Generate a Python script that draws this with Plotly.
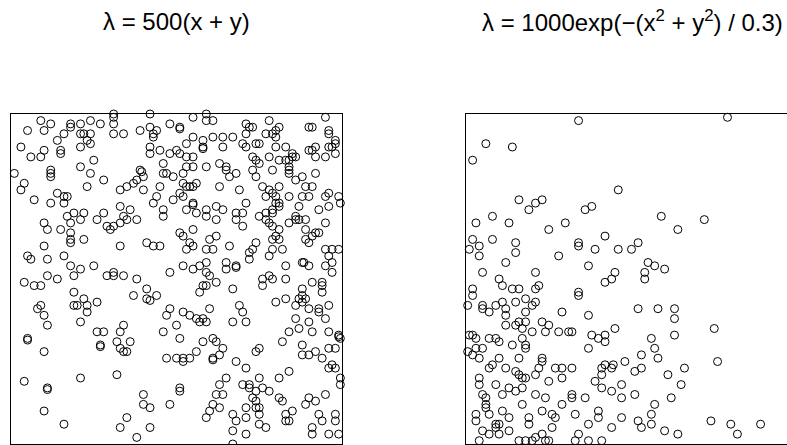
import plotly.graph_objects as go

# ---- data (unit-square point patterns) ----
left_title = "λ = 500(x + y)"
right_title = "λ = 1000exp(−(x<sup>2</sup> + y<sup>2</sup>) / 0.3)"

left_points = [
    (0.31,1.00),(0.31,0.99),(0.42,1.00),(0.09,0.98),(0.12,0.97),(0.18,0.97),(0.18,0.96),(0.21,0.97),(0.24,0.98),(0.27,0.97),(0.31,0.97),
    (0.05,0.95),(0.10,0.95),(0.16,0.94),(0.14,0.92),(0.21,0.94),(0.22,0.94),(0.24,0.94),(0.23,0.92),(0.24,0.91),(0.31,0.94),(0.34,0.94),
    (0.39,0.95),(0.42,0.96),(0.43,0.93),(0.44,0.95),(0.43,0.94),(0.48,0.97),(0.51,0.96),(0.51,0.955),
    (0.03,0.90),(0.21,0.90),(0.10,0.89),(0.15,0.89),(0.15,0.88),(0.06,0.87),(0.09,0.87),(0.42,0.90),(0.45,0.89),(0.42,0.88),(0.48,0.88),
    (0.50,0.89),(0.51,0.88),(0.53,0.91),
    (0.01,0.82),(0.21,0.84),(0.25,0.86),(0.12,0.83),(0.12,0.82),(0.12,0.81),(0.24,0.82),(0.28,0.80),(0.46,0.85),(0.39,0.83),(0.395,0.825),
    (0.40,0.81),(0.46,0.82),(0.47,0.82),(0.49,0.81),(0.52,0.82),(0.53,0.84),(0.53,0.87),
    (0.04,0.79),(0.03,0.77),(0.23,0.78),(0.33,0.77),(0.35,0.78),(0.37,0.79),(0.38,0.80),(0.40,0.77),(0.45,0.78),(0.52,0.79),(0.53,0.78),
    (0.54,0.78),(0.51,0.76),
    (0.07,0.74),(0.14,0.76),(0.16,0.75),(0.17,0.75),(0.16,0.73),(0.12,0.73),(0.44,0.75),(0.43,0.73),(0.49,0.74),(0.52,0.75),
    (0.17,0.69),(0.19,0.70),(0.22,0.70),(0.18,0.67),(0.21,0.68),(0.26,0.68),(0.28,0.70),(0.33,0.72),(0.36,0.71),(0.34,0.69),(0.35,0.68),
    (0.33,0.67),(0.31,0.66),(0.38,0.68),(0.29,0.66),(0.30,0.65),(0.46,0.71),(0.46,0.69),(0.53,0.71),
    (0.10,0.67),(0.11,0.65),(0.15,0.65),(0.18,0.64),(0.18,0.62),(0.18,0.61),(0.22,0.62),(0.51,0.64),(0.52,0.63),(0.54,0.61),(0.53,0.59),
    (0.10,0.60),(0.33,0.60),(0.41,0.61),(0.43,0.60),(0.45,0.60),
    (0.05,0.57),(0.06,0.56),(0.11,0.56),(0.16,0.57),(0.18,0.54),(0.21,0.53),(0.25,0.54),(0.52,0.54),
    (0.55,0.99),(0.59,1.00),(0.59,0.98),(0.61,0.98),(0.78,0.98),(0.95,0.99),(0.71,0.97),(0.72,0.96),(0.73,0.96),(0.90,0.96),(0.91,0.96),
    (0.96,0.95),
    (0.55,0.93),(0.58,0.92),(0.61,0.93),(0.64,0.93),(0.67,0.93),(0.58,0.90),(0.58,0.895),(0.64,0.90),(0.71,0.94),(0.70,0.91),(0.71,0.90),
    (0.74,0.91),(0.75,0.91),(0.77,0.94),(0.79,0.94),(0.80,0.95),(0.81,0.96),(0.80,0.93),(0.80,0.90),(0.83,0.90),(0.96,0.94),(0.98,0.92),
    (0.98,0.91),(0.97,0.90),(0.96,0.90),(0.92,0.90),(0.91,0.89),(0.90,0.89),
    (0.55,0.87),(0.55,0.84),(0.59,0.84),(0.63,0.85),(0.65,0.84),(0.65,0.83),(0.66,0.81),(0.68,0.82),(0.73,0.87),(0.74,0.86),(0.75,0.85),
    (0.73,0.83),(0.74,0.81),(0.78,0.87),(0.79,0.83),(0.81,0.86),(0.83,0.86),(0.85,0.88),(0.85,0.87),(0.86,0.87),(0.84,0.84),(0.84,0.83),
    (0.84,0.82),(0.86,0.80),(0.84,0.86),(0.92,0.87),(0.95,0.87),(0.92,0.82),(0.88,0.81),(0.98,0.88),
    (0.55,0.78),(0.56,0.79),(0.55,0.73),(0.55,0.725),(0.56,0.70),(0.59,0.71),(0.59,0.69),(0.62,0.72),(0.62,0.68),(0.64,0.71),(0.68,0.70),
    (0.70,0.70),(0.71,0.73),(0.69,0.77),(0.63,0.78),(0.76,0.78),(0.78,0.77),(0.77,0.75),(0.79,0.76),(0.81,0.78),(0.80,0.75),(0.80,0.73),
    (0.81,0.73),(0.81,0.72),(0.79,0.71),(0.84,0.75),(0.88,0.75),(0.90,0.75),(0.89,0.78),(0.91,0.78),(0.87,0.72),(0.96,0.76),(0.95,0.75),
    (0.99,0.75),(0.995,0.73),(0.96,0.72),(0.93,0.71),
    (0.55,0.65),(0.68,0.68),(0.70,0.66),(0.75,0.69),(0.77,0.70),(0.77,0.68),(0.78,0.67),(0.79,0.66),(0.79,0.70),(0.81,0.65),(0.84,0.67),
    (0.86,0.69),(0.86,0.68),(0.87,0.68),(0.89,0.68),(0.89,0.65),(0.95,0.67),
    (0.55,0.60),(0.60,0.62),(0.59,0.59),(0.61,0.59),(0.62,0.63),(0.66,0.60),(0.72,0.58),(0.73,0.59),(0.74,0.61),(0.79,0.62),(0.79,0.59),
    (0.81,0.62),(0.82,0.59),(0.80,0.63),(0.92,0.64),(0.91,0.63),(0.89,0.62),(0.90,0.61),(0.93,0.64),(0.95,0.59),(0.97,0.59),(0.99,0.59),
    (0.96,0.57),(0.97,0.55),
    (0.55,0.53),(0.57,0.54),(0.59,0.55),(0.65,0.53),(0.65,0.55),(0.68,0.54),(0.68,0.535),(0.72,0.56),(0.78,0.57),(0.83,0.54),(0.88,0.55),
    (0.885,0.55),(0.90,0.54),(0.95,0.54),
    (0.04,0.49),(0.07,0.48),(0.09,0.48),(0.11,0.51),(0.14,0.50),(0.19,0.51),(0.29,0.51),(0.31,0.52),(0.31,0.51),(0.34,0.51),(0.38,0.50),
    (0.48,0.52),
    (0.19,0.46),(0.22,0.44),(0.19,0.42),(0.20,0.42),(0.23,0.42),(0.26,0.43),(0.23,0.40),(0.21,0.37),(0.37,0.45),(0.41,0.47),(0.41,0.44),
    (0.42,0.435),(0.44,0.45),
    (0.09,0.42),(0.08,0.41),(0.10,0.39),(0.11,0.36),(0.34,0.36),(0.26,0.34),(0.28,0.34),(0.33,0.34),(0.27,0.30),(0.27,0.295),(0.32,0.31),
    (0.33,0.29),(0.36,0.31),(0.34,0.28),(0.35,0.28),(0.48,0.41),(0.47,0.39),(0.50,0.36),(0.52,0.40),(0.54,0.39),(0.46,0.34),(0.51,0.32),
    (0.56,0.28),
    (0.05,0.32),(0.05,0.315),(0.10,0.28),(0.47,0.26),(0.50,0.26),(0.52,0.26),(0.52,0.25),(0.54,0.26),
    (0.04,0.19),(0.21,0.20),(0.32,0.21),(0.11,0.17),(0.11,0.165),(0.51,0.17),(0.51,0.16),
    (0.40,0.15),(0.40,0.12),(0.42,0.11),(0.48,0.12),
    (0.10,0.10),(0.16,0.06),(0.35,0.08),(0.33,0.05),(0.42,0.05),(0.38,0.02),
    (0.59,0.52),(0.60,0.51),(0.76,0.50),(0.78,0.51),(0.79,0.50),(0.83,0.50),(0.97,0.52),
    (0.57,0.46),(0.58,0.48),(0.59,0.48),(0.62,0.49),(0.67,0.47),(0.76,0.48),(0.80,0.43),(0.83,0.44),(0.87,0.44),(0.88,0.45),(0.89,0.44),
    (0.88,0.43),(0.86,0.42),(0.88,0.47),(0.91,0.49),(0.94,0.49),(0.94,0.48),(0.94,0.46),(0.90,0.41),(0.93,0.41),(0.93,0.40),(0.96,0.42),
    (0.60,0.41),(0.56,0.38),(0.57,0.37),(0.58,0.38),(0.59,0.37),(0.69,0.42),(0.70,0.40),(0.71,0.37),(0.67,0.37),(0.86,0.38),(0.90,0.37),
    (0.87,0.35),(0.84,0.34),(0.91,0.34),(0.95,0.38),(0.96,0.34),(0.99,0.33),(0.99,0.325),(0.995,0.32),
    (0.58,0.31),(0.61,0.32),(0.62,0.31),(0.64,0.29),(0.61,0.26),(0.61,0.255),(0.63,0.27),(0.68,0.25),(0.71,0.23),(0.75,0.29),(0.74,0.28),
    (0.82,0.31),(0.88,0.30),(0.88,0.27),(0.90,0.27),(0.92,0.28),(0.94,0.26),(0.96,0.29),(0.98,0.29),(0.97,0.24),(0.96,0.23),(0.98,0.23),
    (0.84,0.22),(0.81,0.20),
    (0.65,0.20),(0.63,0.18),(0.62,0.15),(0.64,0.15),(0.70,0.18),(0.72,0.18),(0.72,0.17),(0.75,0.20),(0.74,0.16),(0.76,0.17),(0.78,0.16),
    (0.73,0.14),(0.74,0.13),(0.995,0.20),(0.995,0.18),(0.95,0.15),(0.81,0.14),(0.82,0.13),(0.90,0.14),(0.89,0.12),(0.92,0.13),
    (0.61,0.12),(0.60,0.10),(0.63,0.11),(0.59,0.08),(0.67,0.09),(0.68,0.07),(0.71,0.11),(0.74,0.11),(0.75,0.11),(0.75,0.09),(0.71,0.08),
    (0.75,0.06),(0.77,0.05),(0.83,0.09),(0.85,0.10),(0.83,0.07),(0.84,0.07),(0.93,0.09),(0.94,0.07),(0.98,0.09),(0.98,0.07),
    (0.67,0.04),(0.71,0.03),(0.67,0.00),(0.91,0.05),(0.91,0.03),(0.96,0.03),(0.99,0.03),
]

right_points = [
    (0.34,0.98),(0.06,0.91),(0.14,0.90),(0.02,0.86),(0.46,0.77),(0.16,0.74),(0.21,0.73),(0.23,0.74),(0.19,0.71),(0.36,0.71),(0.38,0.72),
    (0.03,0.67),(0.08,0.69),(0.13,0.67),(0.25,0.65),(0.30,0.67),(0.42,0.63),(0.02,0.62),(0.01,0.59),(0.04,0.60),(0.08,0.62),(0.15,0.61),
    (0.34,0.61),(0.34,0.60),(0.39,0.59),(0.46,0.59),(0.04,0.57),(0.15,0.58),(0.12,0.55),(0.28,0.57),(0.37,0.54),
    (0.79,0.99),(0.59,0.69),(0.72,0.68),(0.64,0.65),(0.52,0.61),(0.50,0.59),(0.55,0.55),(0.57,0.54),
    (0.05,0.52),(0.10,0.50),(0.21,0.52),(0.45,0.52),(0.42,0.49),(0.44,0.50),(0.02,0.47),(0.02,0.45),(0.11,0.48),(0.14,0.47),(0.16,0.47),
    (0.21,0.47),(0.22,0.48),(0.34,0.46),(0.34,0.45),
    (0.005,0.42),(0.05,0.42),(0.05,0.41),(0.07,0.40),(0.09,0.42),(0.11,0.43),(0.12,0.41),(0.15,0.43),(0.18,0.44),(0.21,0.43),(0.20,0.42),
    (0.18,0.40),(0.12,0.39),(0.12,0.36),(0.15,0.36),(0.16,0.37),(0.18,0.37),(0.17,0.35),(0.20,0.34),(0.23,0.37),(0.25,0.36),(0.24,0.34),
    (0.28,0.34),(0.31,0.34),(0.32,0.34),(0.29,0.40),(0.37,0.39),(0.45,0.35),(0.38,0.33),(0.40,0.32),(0.42,0.33),(0.42,0.31),(0.37,0.29),
    (0.01,0.33),(0.02,0.33),(0.03,0.32),(0.07,0.32),(0.09,0.32),(0.10,0.31),(0.14,0.30),(0.17,0.32),(0.18,0.30),(0.18,0.29),(0.005,0.28),
    (0.02,0.27),(0.03,0.29),(0.05,0.29),(0.04,0.26),(0.10,0.26),(0.08,0.24),(0.07,0.23),(0.16,0.26),(0.12,0.23),(0.23,0.26),(0.23,0.25),
    (0.22,0.23),(0.15,0.22),(0.16,0.21),(0.17,0.20),(0.18,0.20),(0.21,0.21),(0.27,0.23),(0.29,0.23),(0.32,0.23),(0.29,0.20),(0.25,0.19),
    (0.04,0.20),(0.04,0.18),(0.09,0.18),(0.13,0.17),(0.15,0.16),(0.17,0.17),(0.05,0.15),(0.06,0.14),(0.06,0.12),(0.06,0.11),(0.11,0.15),
    (0.21,0.15),(0.24,0.14),(0.17,0.12),(0.29,0.12),(0.32,0.15),(0.32,0.14),(0.36,0.14),(0.39,0.19),(0.41,0.23),(0.42,0.24),(0.44,0.23),
    (0.445,0.24),(0.41,0.21),(0.41,0.17),(0.44,0.16),(0.47,0.18),(0.47,0.14),(0.47,0.08),(0.40,0.10),(0.40,0.08),(0.33,0.09),(0.23,0.10),
    (0.26,0.09),(0.27,0.08),(0.19,0.08),(0.19,0.06),(0.11,0.10),(0.13,0.08),(0.07,0.09),(0.03,0.09),(0.03,0.07),(0.09,0.06),(0.09,0.05),
    (0.10,0.06),(0.05,0.04),(0.07,0.03),(0.10,0.03),(0.13,0.04),(0.04,0.01),(0.16,0.01),(0.18,0.01),(0.21,0.02),(0.23,0.03),(0.24,0.01),
    (0.25,0.01),(0.20,0.01),(0.26,0.05),(0.34,0.03),(0.33,0.01),(0.37,0.01),(0.41,0.01),(0.37,0.06),(0.44,0.05),
    (0.54,0.50),(0.54,0.52),(0.60,0.53),(0.52,0.41),(0.58,0.41),(0.63,0.41),(0.63,0.38),(0.63,0.33),(0.75,0.35),(0.56,0.32),(0.57,0.29),
    (0.53,0.27),(0.58,0.26),(0.48,0.25),(0.51,0.22),(0.53,0.23),(0.76,0.25),(0.61,0.21),(0.66,0.23),(0.65,0.18),(0.62,0.14),(0.51,0.15),
    (0.57,0.12),(0.56,0.09),(0.52,0.07),(0.53,0.05),(0.56,0.06),(0.60,0.04),(0.64,0.03),(0.74,0.07),(0.80,0.06),(0.82,0.03),(0.89,0.06),
]

left_x = [p[0] for p in left_points]
left_y = [p[1] for p in left_points]
right_x = [p[0] for p in right_points]
right_y = [p[1] for p in right_points]

# ---- figure ----
W, H = 787, 445
ML, MT, MB = 11, 114, 1
plot_w = W - ML
box = 331  # pixel size of the unit square

marker = dict(symbol="circle-open", size=8, color="black", line=dict(width=1, color="black"))

fig = go.Figure()
fig.add_trace(go.Scatter(x=left_x, y=left_y, mode="markers", marker=marker,
                         xaxis="x", yaxis="y", cliponaxis=False, showlegend=False, hoverinfo="x+y"))
fig.add_trace(go.Scatter(x=right_x, y=right_y, mode="markers", marker=marker,
                         xaxis="x2", yaxis="y2", cliponaxis=False, showlegend=False, hoverinfo="x+y"))

ax_common = dict(showgrid=False, zeroline=False, showticklabels=False, ticks="",
                 showline=True, linecolor="black", linewidth=1, fixedrange=True)

right_start = (466 - ML) / plot_w
right_visible = (W - 466) / box

title_font = dict(size=24, family="Liberation Sans, Arial, sans-serif", color="black")
title_y = (H - MB - 21) / (H - MT - MB)

fig.update_layout(
    width=W, height=H,
    margin=dict(l=ML, r=0, t=MT, b=MB, pad=0),
    paper_bgcolor="white", plot_bgcolor="white",
    xaxis=dict(domain=[0, box / plot_w], range=[0, 1], mirror=True, **ax_common),
    yaxis=dict(domain=[0, 1], range=[0, 1], mirror=True, anchor="x", **ax_common),
    xaxis2=dict(domain=[right_start, 1], range=[0, right_visible], mirror=True, anchor="y2", **ax_common),
    yaxis2=dict(domain=[0, 1], range=[0, 1], mirror=False, anchor="x2", **ax_common),
    font=dict(family="Liberation Sans, Arial, sans-serif", color="black"),
    annotations=[
        dict(text=left_title, xref="paper", yref="paper",
             x=(176 - ML) / plot_w, y=title_y,
             xanchor="center", yanchor="middle", showarrow=False, font=title_font),
        dict(text=right_title, xref="paper", yref="paper",
             x=(632 - ML) / plot_w, y=title_y,
             xanchor="center", yanchor="middle", showarrow=False, font=title_font),
    ],
)

fig.write_html(
    "out.html",
    config={"displayModeBar": False, "staticPlot": True},
    post_script="document.body.style.margin='0';document.body.style.padding='0';document.body.style.overflow='hidden';",
)
